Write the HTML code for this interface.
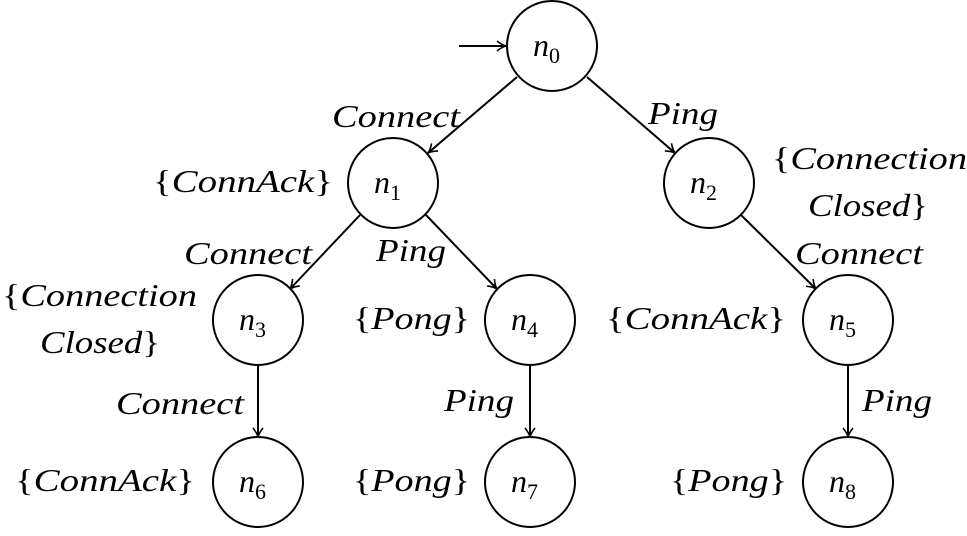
<!DOCTYPE html>
<html><head><meta charset="utf-8"><style>
html,body{margin:0;padding:0;background:#fff}
svg text{font-family:"Liberation Serif",serif;font-style:italic;font-size:32px;fill:#000}
.s{font-style:normal;font-size:22px}
.b{font-style:normal}
</style></head><body>
<svg width="967" height="531" viewBox="0 0 967 531" xmlns="http://www.w3.org/2000/svg">
<defs><marker id="a" markerWidth="12" markerHeight="12" refX="10" refY="6" orient="auto" markerUnits="userSpaceOnUse">
<path d="M1,1 Q6,5 10,6 Q6,7 1,11" fill="none" stroke="#000" stroke-width="1.6"/></marker></defs>
<g fill="none" stroke="#000" stroke-width="2">
<circle cx="552" cy="46" r="45"/>
<circle cx="393" cy="183" r="45"/>
<circle cx="709" cy="183" r="45"/>
<circle cx="258" cy="320" r="45"/>
<circle cx="530" cy="320" r="45"/>
<circle cx="848" cy="320" r="45"/>
<circle cx="258" cy="482" r="45"/>
<circle cx="530" cy="482" r="45"/>
<circle cx="848" cy="482" r="45"/>
<g marker-end="url(#a)">
<line x1="459" y1="46" x2="506" y2="46"/>
<line x1="517" y1="77" x2="428" y2="153"/>
<line x1="587" y1="77" x2="675" y2="153"/>
<line x1="360" y1="215" x2="290" y2="289"/>
<line x1="426" y1="215" x2="497" y2="289"/>
<line x1="741" y1="215" x2="816" y2="289"/>
<line x1="258" y1="365" x2="258" y2="437"/>
<line x1="530" y1="365" x2="530" y2="437"/>
<line x1="848" y1="365" x2="848" y2="437"/>
</g></g>
<text x="533" y="56">n<tspan class="s" dy="7">0</tspan></text>
<text x="374" y="193">n<tspan class="s" dy="7">1</tspan></text>
<text x="690" y="193">n<tspan class="s" dy="7">2</tspan></text>
<text x="239" y="330">n<tspan class="s" dy="7">3</tspan></text>
<text x="511" y="330">n<tspan class="s" dy="7">4</tspan></text>
<text x="829" y="330">n<tspan class="s" dy="7">5</tspan></text>
<text x="239" y="492">n<tspan class="s" dy="7">6</tspan></text>
<text x="511" y="492">n<tspan class="s" dy="7">7</tspan></text>
<text x="829" y="492">n<tspan class="s" dy="7">8</tspan></text>
<text x="332" y="127" textLength="128" lengthAdjust="spacingAndGlyphs">Connect</text>
<text x="648" y="124" textLength="70" lengthAdjust="spacingAndGlyphs">Ping</text>
<text x="184" y="264" textLength="128" lengthAdjust="spacingAndGlyphs">Connect</text>
<text x="376" y="261" textLength="70" lengthAdjust="spacingAndGlyphs">Ping</text>
<text x="795" y="264" textLength="128" lengthAdjust="spacingAndGlyphs">Connect</text>
<text x="116" y="414" textLength="128" lengthAdjust="spacingAndGlyphs">Connect</text>
<text x="444" y="411" textLength="70" lengthAdjust="spacingAndGlyphs">Ping</text>
<text x="862" y="411" textLength="70" lengthAdjust="spacingAndGlyphs">Ping</text>
<text x="153" y="192" textLength="180" lengthAdjust="spacingAndGlyphs"><tspan class="b">{</tspan>ConnAck<tspan class="b">}</tspan></text>
<text x="772" y="169" textLength="195" lengthAdjust="spacingAndGlyphs"><tspan class="b">{</tspan>Connection</text>
<text x="808" y="216" textLength="120" lengthAdjust="spacingAndGlyphs">Closed<tspan class="b">}</tspan></text>
<text x="2" y="306" textLength="195" lengthAdjust="spacingAndGlyphs"><tspan class="b">{</tspan>Connection</text>
<text x="40" y="353" textLength="120" lengthAdjust="spacingAndGlyphs">Closed<tspan class="b">}</tspan></text>
<text x="353" y="329" textLength="117" lengthAdjust="spacingAndGlyphs"><tspan class="b">{</tspan>Pong<tspan class="b">}</tspan></text>
<text x="606" y="329" textLength="180" lengthAdjust="spacingAndGlyphs"><tspan class="b">{</tspan>ConnAck<tspan class="b">}</tspan></text>
<text x="15" y="491" textLength="180" lengthAdjust="spacingAndGlyphs"><tspan class="b">{</tspan>ConnAck<tspan class="b">}</tspan></text>
<text x="353" y="491" textLength="117" lengthAdjust="spacingAndGlyphs"><tspan class="b">{</tspan>Pong<tspan class="b">}</tspan></text>
<text x="670" y="491" textLength="117" lengthAdjust="spacingAndGlyphs"><tspan class="b">{</tspan>Pong<tspan class="b">}</tspan></text>
</svg>
</body></html>
